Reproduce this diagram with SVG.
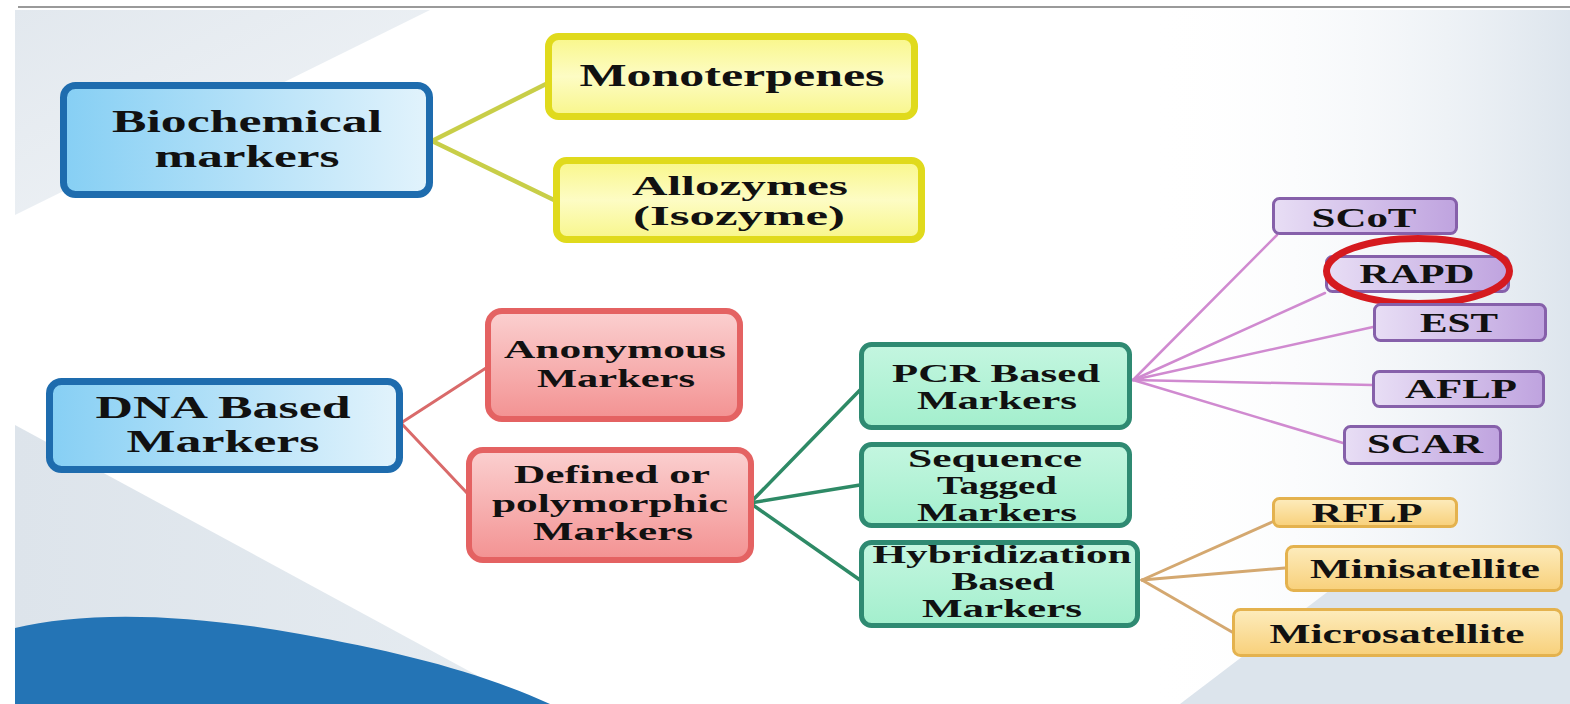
<svg xmlns="http://www.w3.org/2000/svg" width="1570" height="704" viewBox="0 0 1570 704">
<defs>
<linearGradient id="gBlue" x1="0" y1="0" x2="1" y2="0"><stop offset="0" stop-color="#86cff4"/><stop offset="1" stop-color="#e2f3fc"/></linearGradient>
<linearGradient id="gYellow" x1="0" y1="0" x2="0" y2="1"><stop offset="0" stop-color="#f9f78a"/><stop offset="0.5" stop-color="#fdfcc4"/><stop offset="1" stop-color="#f8f68a"/></linearGradient>
<linearGradient id="gRed" x1="0" y1="0" x2="0" y2="1"><stop offset="0" stop-color="#fbd0d0"/><stop offset="1" stop-color="#f39292"/></linearGradient>
<linearGradient id="gGreen" x1="0" y1="0" x2="0" y2="1"><stop offset="0" stop-color="#c4f6e0"/><stop offset="1" stop-color="#a3efcd"/></linearGradient>
<linearGradient id="gPurple" x1="0" y1="0" x2="1" y2="0"><stop offset="0" stop-color="#e8def5"/><stop offset="1" stop-color="#bfa3df"/></linearGradient>
<linearGradient id="gOrange" x1="0" y1="0" x2="0" y2="1"><stop offset="0" stop-color="#fdecbd"/><stop offset="1" stop-color="#f8d07a"/></linearGradient>
<linearGradient id="gTopLeft" x1="0" y1="0" x2="1" y2="1"><stop offset="0" stop-color="#e2e8ee"/><stop offset="1" stop-color="#f2f5f8"/></linearGradient>
<linearGradient id="gLowLeft" x1="0" y1="0" x2="1" y2="0"><stop offset="0" stop-color="#dde4eb"/><stop offset="1" stop-color="#e6ecf1"/></linearGradient>
<linearGradient id="gRight" x1="0" y1="0" x2="1" y2="0"><stop offset="0" stop-color="#ffffff" stop-opacity="0"/><stop offset="1" stop-color="#dde5ed"/></linearGradient>
</defs>
<style>
.box text { font-family: "Liberation Serif", "Times New Roman", serif; font-weight: bold; fill: #111; text-anchor: middle; }
.blue rect { fill: url(#gBlue); stroke: #1e6cae; stroke-width: 7; }
.yellow rect { fill: url(#gYellow); stroke: #e0da1c; stroke-width: 7; }
.red rect { fill: url(#gRed); stroke: #e46262; stroke-width: 6; }
.green rect { fill: url(#gGreen); stroke: #2f8a72; stroke-width: 5; }
.purple rect { fill: url(#gPurple); stroke: #8660aa; stroke-width: 3; }
.orange rect { fill: url(#gOrange); stroke: #e4b24e; stroke-width: 3; }
.f33 { font-size: 32px; } .f28 { font-size: 28px; } .f26 { font-size: 26px; }
#connectors line { stroke-linecap: round; fill: none; }
.cy { stroke: #c8ce48; stroke-width: 4.5; }
.cr { stroke: #d96a6a; stroke-width: 3; }
.cg { stroke: #2e8a66; stroke-width: 3.5; }
.cp { stroke: #d08ad0; stroke-width: 2.5; }
.ct { stroke: #d4a870; stroke-width: 3; }
</style>

<!-- background -->
<rect x="0" y="0" width="1570" height="704" fill="#ffffff"/>
<rect x="1150" y="10" width="420" height="694" fill="url(#gRight)"/>
<polygon points="15,10 430,10 15,215" fill="url(#gTopLeft)"/>
<polygon points="15,425 530,704 15,704" fill="url(#gLowLeft)"/>
<polygon points="1180,704 1330,590 1570,560 1570,704" fill="#dce4ec"/>
<path d="M15,704 L15,628 C80,612 180,612 300,634 C400,652 480,672 550,704 Z" fill="#2474b5"/>
<line x1="18" y1="7" x2="1570" y2="7" stroke="#9a9a9a" stroke-width="2"/>

<g id="connectors">
<line class="cy" x1="432" y1="141" x2="546" y2="84"/>
<line class="cy" x1="432" y1="141" x2="554" y2="200"/>
<line class="cr" x1="401" y1="423" x2="486" y2="368"/>
<line class="cr" x1="401" y1="423" x2="467" y2="493"/>
<line class="cg" x1="750" y1="503" x2="860" y2="390"/>
<line class="cg" x1="750" y1="503" x2="860" y2="485"/>
<line class="cg" x1="750" y1="503" x2="860" y2="580"/>
<line class="cp" x1="1133" y1="380" x2="1277" y2="235"/>
<line class="cp" x1="1133" y1="380" x2="1325" y2="293"/>
<line class="cp" x1="1133" y1="380" x2="1373" y2="327"/>
<line class="cp" x1="1133" y1="380" x2="1372" y2="385"/>
<line class="cp" x1="1133" y1="380" x2="1343" y2="443"/>
<line class="ct" x1="1142" y1="580" x2="1272" y2="522"/>
<line class="ct" x1="1142" y1="580" x2="1285" y2="568"/>
<line class="ct" x1="1142" y1="580" x2="1232" y2="632"/>
</g>

<g id="biochemical" class="box blue">
<rect x="63.5" y="85.5" width="366" height="109" rx="12"/>
<text class="f33" x="247" y="132" textLength="270" lengthAdjust="spacingAndGlyphs">Biochemical</text>
<text class="f33" x="247" y="167" textLength="185" lengthAdjust="spacingAndGlyphs">markers</text>
</g>
<g id="monoterpenes" class="box yellow">
<rect x="548.5" y="36.5" width="366" height="80" rx="10"/>
<text class="f33" x="732" y="86" textLength="305" lengthAdjust="spacingAndGlyphs">Monoterpenes</text>
</g>
<g id="allozymes" class="box yellow">
<rect x="556.5" y="160.5" width="365" height="79" rx="10"/>
<text class="f28" x="740" y="195" textLength="216" lengthAdjust="spacingAndGlyphs">Allozymes</text>
<text class="f28" x="739" y="225" textLength="212" lengthAdjust="spacingAndGlyphs">(Isozyme)</text>
</g>
<g id="dna" class="box blue">
<rect x="49.5" y="381.5" width="350" height="88" rx="12"/>
<text class="f33" x="223" y="418" textLength="255" lengthAdjust="spacingAndGlyphs">DNA Based</text>
<text class="f33" x="223" y="452" textLength="193" lengthAdjust="spacingAndGlyphs">Markers</text>
</g>
<g id="anonymous" class="box red">
<rect x="488" y="311" width="252" height="108" rx="14"/>
<text class="f26" x="615" y="358" textLength="222" lengthAdjust="spacingAndGlyphs">Anonymous</text>
<text class="f26" x="616" y="387" textLength="158" lengthAdjust="spacingAndGlyphs">Markers</text>
</g>
<g id="defined" class="box red">
<rect x="469" y="450" width="282" height="110" rx="14"/>
<text class="f26" x="612" y="483" textLength="196" lengthAdjust="spacingAndGlyphs">Defined or</text>
<text class="f26" x="610" y="512" textLength="236" lengthAdjust="spacingAndGlyphs">polymorphic</text>
<text class="f26" x="613" y="540" textLength="160" lengthAdjust="spacingAndGlyphs">Markers</text>
</g>
<g id="pcr" class="box green">
<rect x="861.5" y="344.5" width="268" height="83" rx="10"/>
<text class="f26" x="996" y="382" textLength="208" lengthAdjust="spacingAndGlyphs">PCR Based</text>
<text class="f26" x="997" y="409" textLength="160" lengthAdjust="spacingAndGlyphs">Markers</text>
</g>
<g id="sequence-tagged" class="box green">
<rect x="861.5" y="444.5" width="268" height="81" rx="10"/>
<text class="f26" x="995" y="467" textLength="174" lengthAdjust="spacingAndGlyphs">Sequence</text>
<text class="f26" x="997" y="494" textLength="120" lengthAdjust="spacingAndGlyphs">Tagged</text>
<text class="f26" x="997" y="521" textLength="160" lengthAdjust="spacingAndGlyphs">Markers</text>
</g>
<g id="hybridization" class="box green">
<rect x="861.5" y="542.5" width="276" height="83" rx="10"/>
<text class="f26" x="1002" y="563" textLength="259" lengthAdjust="spacingAndGlyphs">Hybridization</text>
<text class="f26" x="1003" y="590" textLength="103" lengthAdjust="spacingAndGlyphs">Based</text>
<text class="f26" x="1002" y="617" textLength="160" lengthAdjust="spacingAndGlyphs">Markers</text>
</g>
<g id="scot" class="box purple">
<rect x="1273.5" y="198.5" width="183" height="35" rx="6"/>
<text class="f28" x="1364" y="227" textLength="105" lengthAdjust="spacingAndGlyphs">SCoT</text>
</g>
<g id="rapd" class="box purple">
<rect x="1326.5" y="256.5" width="182" height="35" rx="6"/>
<text class="f28" x="1417" y="283" textLength="115" lengthAdjust="spacingAndGlyphs">RAPD</text>
<ellipse cx="1418" cy="271" rx="91.5" ry="32.5" fill="none" stroke="#d51a1f" stroke-width="7"/>
</g>
<g id="est" class="box purple">
<rect x="1374.5" y="304.5" width="171" height="36" rx="6"/>
<text class="f28" x="1459" y="332" textLength="78" lengthAdjust="spacingAndGlyphs">EST</text>
</g>
<g id="aflp" class="box purple">
<rect x="1373.5" y="371.5" width="170" height="35" rx="6"/>
<text class="f28" x="1461" y="398" textLength="112" lengthAdjust="spacingAndGlyphs">AFLP</text>
</g>
<g id="scar" class="box purple">
<rect x="1344.5" y="426.5" width="156" height="37" rx="6"/>
<text class="f28" x="1425" y="453" textLength="116" lengthAdjust="spacingAndGlyphs">SCAR</text>
</g>
<g id="rflp" class="box orange">
<rect x="1273.5" y="498.5" width="183" height="28" rx="6"/>
<text class="f28" x="1367" y="522" textLength="111" lengthAdjust="spacingAndGlyphs">RFLP</text>
</g>
<g id="minisatellite" class="box orange">
<rect x="1286.5" y="546.5" width="275" height="44" rx="7"/>
<text class="f28" x="1425" y="578" textLength="230" lengthAdjust="spacingAndGlyphs">Minisatellite</text>
</g>
<g id="microsatellite" class="box orange">
<rect x="1233.5" y="609.5" width="328" height="46" rx="7"/>
<text class="f28" x="1397" y="643" textLength="255" lengthAdjust="spacingAndGlyphs">Microsatellite</text>
</g>
</svg>
